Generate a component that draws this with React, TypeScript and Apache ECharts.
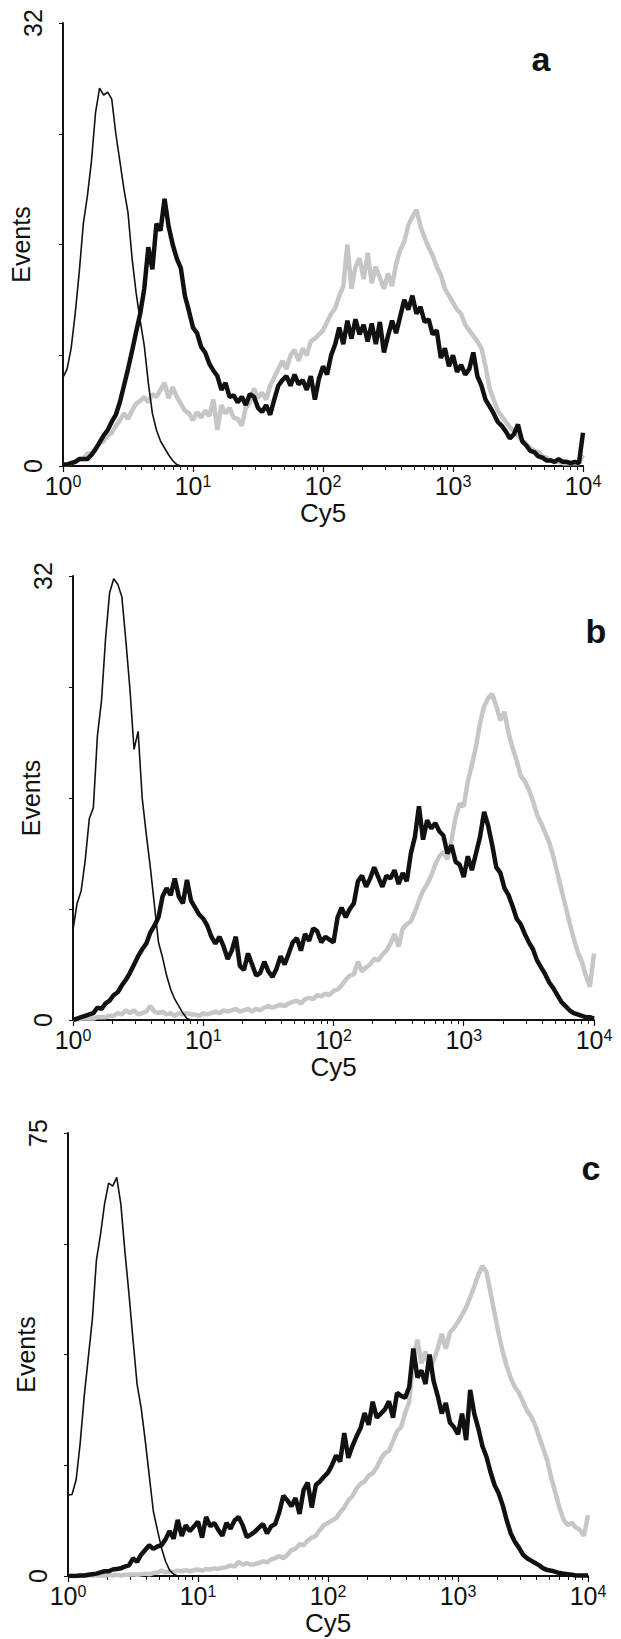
import React, { useEffect, useRef } from "react";
import * as echarts from "echarts";

// 129 log-spaced channels from 10^0 to 10^4 (32 per decade)
const CHANNELS: number[] = Array.from({ length: 129 }, (_, i) => Math.pow(10, i / 32));
const MINOR_TICKS: number[] = [2, 3, 4, 5, 6, 7, 8, 9, 20, 30, 40, 50, 60, 70, 80, 90, 200, 300, 400, 500, 600, 700, 800, 900, 2000, 3000, 4000, 5000, 6000, 7000, 8000, 9000];
const PANEL_LETTERS = ["a", "b", "c"];
const Y_MAX = [32, 32, 75];
const X_NAME = "Cy5";
const Y_NAME = "Events";

const A_CONTROL = [6.4, 7.0, 8.5, 11, 14, 17.5, 19.5, 22, 25.5, 27.3, 26.8, 27, 26.5, 24, 22, 20, 18.3, 15, 12.5, 10.5, 8.7, 6, 3.8, 2.6, 1.8, 1.3, 0.8, 0.4, 0.1, 0];
const A_THICK = [
  0.1, 0.1, 0.2, 0.3, 0.5, 0.5, 0.5, 0.8, 1.2, 1.7,
  2.2, 2.6, 3.2, 3.7, 4.6, 5.8, 7, 8.3, 9.7, 11,
  12.8, 15.8, 14.2, 17.5, 17, 19.3, 17.3, 16, 15, 14.3,
  12.3, 11.2, 10, 9.6, 8.6, 8.2, 7.4, 6.9, 6.5, 5.5,
  6.0, 5.0, 5.1, 4.6, 5.0, 4.4, 5.2, 5.0, 4.2, 3.9,
  4.4, 3.7, 4.8, 5.8, 6.2, 6.5, 5.8, 6.6, 5.9, 6.2,
  5.5, 6.5, 4.8, 6.3, 7.2, 6.6, 8.0, 8.8, 10.0, 8.8,
  10.5, 9.2, 10.6, 9.5, 10.2, 9.0, 10.3, 8.8, 10.4, 8.2,
  9.4, 10.5, 9.6, 10.8, 12.0, 11.3, 12.3, 11.0, 11.5, 10.4,
  10.6, 9.5, 9.8, 7.8, 8.5, 7.2, 8.0, 6.8, 7.3, 6.6,
  7.0, 8.2, 6.5, 5.8, 4.8, 4.3, 3.8, 3.2, 2.9, 2.5,
  2.0, 2.3, 3.0, 1.8, 1.5, 1.1, 1.0, 0.7, 0.6, 0.4,
  0.4, 0.3, 0.5, 0.3, 0.3, 0.2, 0.3, 0.2, 2.4,
];
const A_GRAY = [
  0.1, 0.1, 0.2, 0.3, 0.5, 0.5, 0.9, 0.9, 1.3, 1.6,
  1.8, 2.2, 2.4, 2.9, 3.3, 3.8, 3.4, 4.0, 4.5, 4.7,
  5.0, 4.6, 5.2, 5.0, 5.5, 6.0, 4.9, 5.7, 5.0, 4.5,
  4.0, 3.8, 3.3, 3.9, 3.5, 4.0, 3.6, 4.8, 2.6, 4.4,
  3.8, 4.2, 3.5, 3.4, 2.9, 4.2, 4.6, 5.6, 4.9, 5.3,
  4.8, 5.8, 6.4, 7.0, 7.6, 7.0, 8.0, 8.4, 7.6, 8.5,
  8.0, 9.0, 9.2, 9.5, 9.8, 10.4, 11.0, 11.4, 12.3, 13.0,
  16.0, 12.8, 14.4, 15.0, 13.5, 15.4, 13.2, 14.4, 13.6, 12.8,
  13.9, 13.0, 14.6, 15.6, 16.2, 17.4, 18.0, 18.5, 17.3, 16.5,
  15.8, 15.2, 14.4, 13.8, 12.8, 12.3, 11.8, 11.3, 11.0, 10.2,
  9.8, 9.4, 9.0, 8.5, 7.2, 5.6, 4.8, 4.0, 3.6, 3.2,
  2.8, 2.5, 2.2, 1.9, 1.6, 1.3, 1.1, 1.0, 0.7, 0.6,
  0.4, 0.3, 0.3, 0.2, 0.2, 0.2, 0.2, 0.2, 0.8,
];

const B_CONTROL = [6.5, 8.4, 9.3, 11.5, 14.5, 15.3, 20.5, 23, 27.5, 30.8, 31.8, 31.4, 30.5, 27.3, 23.8, 19.5, 20.8, 16, 13.4, 11, 8.3, 5.6, 4.5, 3.2, 2.2, 1.5, 1.0, 0.5, 0.1, 0];
const B_THICK = [
  0, 0.1, 0.2, 0.3, 0.4, 0.5, 0.9, 0.8, 1.2, 1.4,
  1.8, 2.0, 2.5, 2.9, 3.4, 4.0, 4.6, 5.1, 5.5, 6.3,
  6.8, 7.4, 8.9, 9.5, 9.0, 10.2, 8.9, 8.4, 10.1, 8.6,
  8.1, 7.6, 7.3, 6.8, 6.0, 5.5, 6.0, 5.3, 4.4, 5.0,
  6.0, 3.9, 3.6, 4.8, 4.0, 3.2, 3.4, 4.2, 3.5, 3.1,
  3.7, 4.6, 4.0, 4.8, 5.6, 5.9, 5.0, 6.2, 5.7, 6.6,
  6.4, 5.6, 6.0, 5.8, 5.6, 7.4, 8.1, 7.4, 8.0, 8.4,
  10.0, 10.4, 9.6, 10.2, 11.0, 10.3, 9.6, 10.4, 10.2, 10.8,
  9.8, 10.6, 10.0, 12.0, 13.2, 15.4, 13.0, 14.4, 13.8, 14.2,
  13.6, 13.3, 12.0, 12.6, 11.4, 11.2, 10.3, 11.8, 10.8, 12.0,
  13.2, 15.0, 14.0, 12.6, 11.0, 10.6, 9.5, 9.0, 8.2, 7.3,
  6.9, 6.2, 5.6, 5.1, 4.3, 3.8, 3.3, 2.7, 2.3, 1.8,
  1.3, 1.0, 0.7, 0.5, 0.4, 0.3, 0.2, 0.2, 0.1,
];
const B_GRAY = [
  0, 0, 0.1, 0.1, 0.1, 0.1, 0.2, 0.2, 0.2, 0.3,
  0.3, 0.5, 0.4, 0.7, 0.5, 0.7, 0.4, 0.5, 0.6, 1.0,
  0.6, 0.5, 0.6, 0.4, 0.5, 0.3, 0.5, 0.4, 0.5, 0.4,
  0.4, 0.3, 0.5, 0.4, 0.5, 0.6, 0.5, 0.7, 0.6, 0.7,
  0.8, 0.6, 0.7, 0.8, 0.6, 0.8, 0.7, 0.9, 1.0, 0.9,
  1.0, 1.1, 1.0, 1.2, 1.3, 1.4, 1.2, 1.5, 1.6, 1.5,
  1.8, 1.7, 1.9, 1.8, 2.1, 2.2, 2.5, 2.9, 3.2, 3.3,
  4.2, 3.5, 3.8, 4.0, 4.4, 4.3, 4.7, 5.0, 5.5, 6.2,
  5.3, 6.6, 6.9, 7.1, 7.8, 8.6, 9.3, 9.8, 10.4, 11.2,
  11.8, 12.1, 11.6, 13.0, 14.6, 15.6, 15.4, 17.2, 18.4, 19.7,
  21.4, 22.6, 23.2, 23.5, 22.6, 21.6, 22.2, 20.7, 19.6, 18.7,
  17.6, 17.2, 16.6, 15.8, 14.8, 14.2, 13.5, 12.8, 11.8, 10.6,
  9.4, 8.2, 7.0, 5.9, 4.9, 4.2, 3.2, 2.4, 4.8,
];

const C_CONTROL = [13.7, 13.8, 16.3, 22.5, 30.5, 37, 43.5, 53.5, 57.8, 63, 66.5, 66, 67.5, 63, 55, 47.8, 40, 32.5, 28.5, 23, 17, 11, 7.8, 4.8, 2.5, 1.0, 0.3, 0];
const C_THICK = [
  0, 0, 0, 0.1, 0.1, 0.2, 0.3, 0.4, 0.6, 0.8,
  0.8, 1.1, 1.2, 1.3, 1.6, 1.8, 3.0, 2.4, 3.6, 4.4,
  5.2, 4.6, 5.0, 5.2, 6.2, 7.6, 6.3, 9.5, 6.8, 8.6,
  7.6, 8.4, 9.2, 6.5, 10.0, 8.4, 9.0, 7.8, 6.8, 9.0,
  8.0, 9.4, 10.0, 8.6, 6.6, 7.0, 7.5, 8.2, 8.8, 7.2,
  8.4, 8.8, 10.8, 13.6, 12.8, 11.8, 13.2, 10.5, 14.6, 15.8,
  11.6, 15.4, 16.0, 16.8, 17.5, 18.8, 20.4, 19.4, 24.2, 20.0,
  22.0, 23.6, 25.0, 27.6, 25.6, 29.5, 26.8, 27.5, 28.2, 29.6,
  26.8, 31.0, 30.5, 30.2, 32.0, 38.5, 33.6, 34.8, 32.5, 37.5,
  33.0, 30.5, 27.5, 29.3, 26.0, 25.2, 24.0, 27.5, 23.0, 31.5,
  27.5, 25.0, 22.0, 20.2, 17.6, 15.4, 14.0, 12.0, 9.4, 7.2,
  5.8, 4.8, 3.6, 3.0, 2.6, 2.2, 1.8, 1.3, 1.0, 0.9,
  0.7, 0.5, 0.4, 0.3, 0.2, 0.1, 0.1, 0.1, 0.1,
];
const C_GRAY = [
  0, 0, 0, 0.1, 0.1, 0.1, 0.1, 0.1, 0.1, 0.1,
  0.2, 0.1, 0.2, 0.1, 0.2, 0.2, 0.3, 0.2, 0.3, 0.4,
  0.3, 0.5, 0.6, 0.9, 0.6, 0.8, 0.7, 0.9, 0.8, 1.0,
  0.8, 1.0, 1.1, 0.9, 1.2, 1.1, 1.3, 1.2, 1.4, 1.5,
  1.8, 1.6, 2.4, 1.9, 2.2, 1.9, 2.0, 2.2, 2.5, 2.3,
  2.8, 3.0, 3.4, 3.0, 3.6, 4.4, 4.6, 5.4, 5.2, 6.0,
  6.5, 6.8, 7.8, 8.6, 9.0, 9.4, 9.8, 10.8, 11.6, 12.8,
  13.5, 14.8, 15.6, 16.0, 17.0, 17.4, 18.4, 19.8, 20.8, 21.2,
  22.8, 24.5, 25.2, 27.6, 29.5, 36.5, 40.0, 36.0, 38.0, 35.0,
  36.5, 38.5, 41.0, 38.5, 41.2, 42.0, 43.0, 44.2, 45.5, 47.2,
  49.0, 51.0, 52.5, 51.5, 48.0, 44.5, 41.0, 38.0, 35.5, 33.5,
  32.0, 31.0, 29.5, 28.0, 27.0, 25.5, 23.5, 21.5, 19.5, 16.5,
  14.0, 11.5, 9.5, 8.6, 9.0, 8.2, 7.8, 6.8, 10.3,
];

const PANELS = [
  { control: A_CONTROL, thick: A_THICK, gray: A_GRAY },
  { control: B_CONTROL, thick: B_THICK, gray: B_GRAY },
  { control: C_CONTROL, thick: C_THICK, gray: C_GRAY },
];

const GRIDS = [
  { left: 63, top: 23, width: 520, height: 443 },
  { left: 73, top: 576, width: 521, height: 444 },
  { left: 68, top: 1133, width: 520, height: 443 },
];
const LETTER_POS = [
  [541, 59],
  [596, 631],
  [591, 1168],
];

const FONT = "'Liberation Sans', Arial, Helvetica, sans-serif";
const INK = "#111111";
const GRAY = "#c6c6c6";

function pairs(vals: number[]) {
  return vals.map((v, i) => [CHANNELS[i], v]);
}

export default function App() {
  const ref = useRef<HTMLDivElement>(null);
  useEffect(() => {
    if (!ref.current) return;
    const chart = echarts.init(ref.current, undefined, { renderer: "svg" });
    const xAxis: any[] = [];
    const yAxis: any[] = [];
    const series: any[] = [];
    const graphic: any[] = [];
    PANELS.forEach((p, k) => {
      const ymax = Y_MAX[k];
      xAxis.push({
        type: "log",
        logBase: 10,
        min: 1,
        max: 10000,
        gridIndex: k,
        position: "bottom",
        axisLine: { show: true, onZero: false, lineStyle: { color: INK, width: 2 } },
        axisTick: { show: true, length: 6, lineStyle: { color: INK, width: 1.2 } },
        axisLabel: {
          margin: 7,
          color: INK,
          fontSize: 25,
          fontFamily: FONT,
          formatter: (v: number) => `{b|10}{s|${Math.round(Math.log10(v))}}`,
          rich: {
            b: { fontSize: 25, fontFamily: FONT, color: INK },
            s: { fontSize: 16, fontFamily: FONT, color: INK, verticalAlign: "top", padding: [0, 0, 8, 0] },
          },
        },
        splitLine: { show: false },
        name: X_NAME,
        nameLocation: "middle",
        nameGap: 34,
        nameMoveOverlap: false,
        nameTextStyle: { fontSize: 26, color: INK, fontFamily: FONT },
      });
      xAxis.push({
        type: "log",
        logBase: 10,
        min: 1,
        max: 10000,
        gridIndex: k,
        position: "bottom",
        axisLine: { show: false },
        axisTick: { show: true, length: 4, customValues: MINOR_TICKS, lineStyle: { color: INK, width: 1 } },
        axisLabel: { show: false },
        splitLine: { show: false },
      });
      yAxis.push({
        type: "value",
        min: 0,
        max: ymax,
        interval: ymax / 4,
        gridIndex: k,
        axisLine: { show: true, lineStyle: { color: INK, width: 2 } },
        axisTick: { show: true, length: 4, lineStyle: { color: INK, width: 1 } },
        axisLabel: {
          rotate: 90,
          margin: 18,
          color: INK,
          fontSize: 25,
          fontFamily: FONT,
          formatter: (v: number) => (v === 0 || v === ymax ? `{b|${v}}` : ""),
          rich: { b: { fontSize: 25, fontFamily: FONT, color: INK } },
        },
        splitLine: { show: false },
        name: Y_NAME,
        nameLocation: "middle",
        nameGap: 30,
        nameRotate: 90,
        nameMoveOverlap: false,
        nameTextStyle: { fontSize: 25, color: INK, fontFamily: FONT },
      });
      series.push({
        type: "line",
        xAxisIndex: 2 * k,
        yAxisIndex: k,
        data: pairs(p.gray),
        showSymbol: false,
        symbol: "none",
        silent: true,
        lineStyle: { color: GRAY, width: 4.5 },
        z: 2,
      });
      series.push({
        type: "line",
        xAxisIndex: 2 * k,
        yAxisIndex: k,
        data: pairs(p.thick),
        showSymbol: false,
        symbol: "none",
        silent: true,
        lineStyle: { color: INK, width: 4.5 },
        z: 3,
      });
      series.push({
        type: "line",
        xAxisIndex: 2 * k,
        yAxisIndex: k,
        data: pairs(p.control),
        showSymbol: false,
        symbol: "none",
        silent: true,
        lineStyle: { color: INK, width: 1.6 },
        z: 4,
      });
      graphic.push({
        type: "text",
        x: LETTER_POS[k][0],
        y: LETTER_POS[k][1],
        style: {
          text: PANEL_LETTERS[k],
          fontSize: 34,
          fontWeight: "bold",
          fontFamily: FONT,
          fill: INK,
          textAlign: "center",
          textVerticalAlign: "middle",
        },
      });
    });
    chart.setOption({
      animation: false,
      backgroundColor: "#ffffff",
      grid: GRIDS.map((g) => ({ ...g, containLabel: false, outerBoundsMode: "none" })),
      xAxis,
      yAxis,
      series,
      graphic,
    });
    return () => chart.dispose();
  }, []);
  return (
    <div
      ref={ref}
      style={{ position: "absolute", left: 0, top: 0, width: 621, height: 1639, background: "#fff" }}
    />
  );
}
